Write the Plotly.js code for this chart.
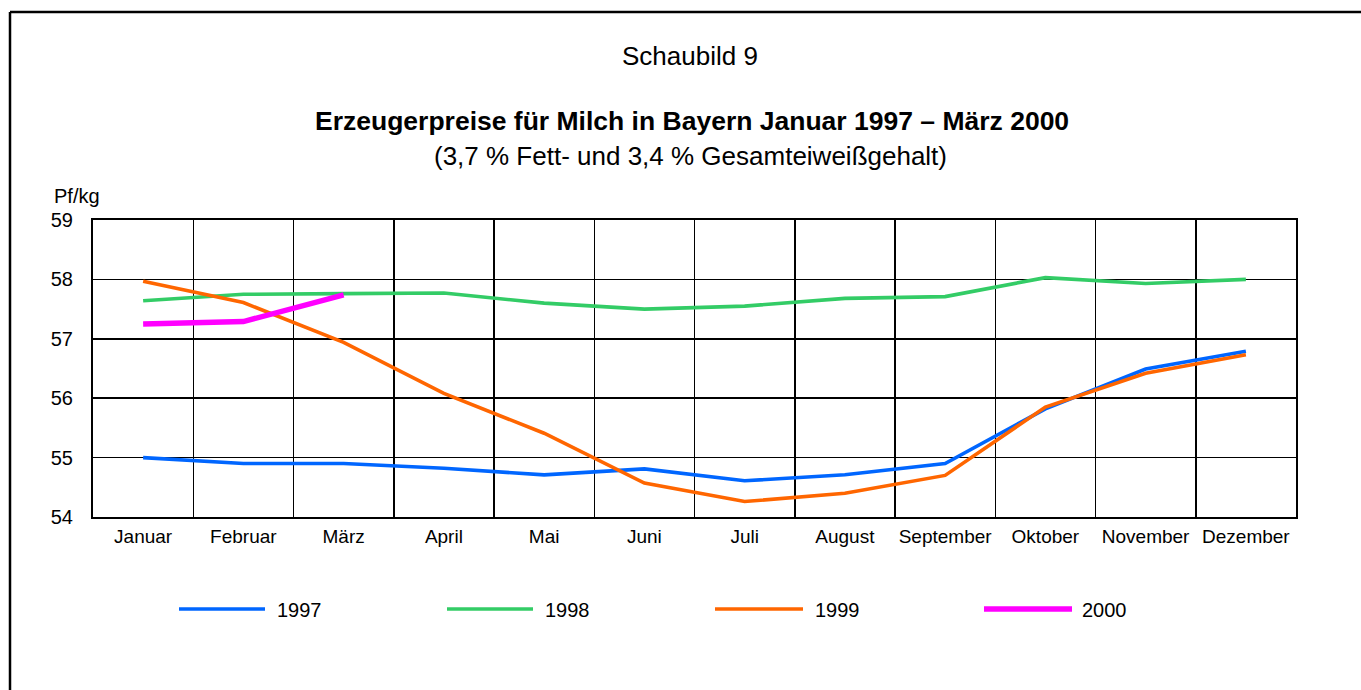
<!DOCTYPE html>
<html>
<head>
<meta charset="utf-8">
<script src="https://cdn.plot.ly/plotly-3.0.1.min.js"></script>
<style>html,body{margin:0;padding:0;background:#fff;}#chart{width:1361px;height:690px;}</style>
</head>
<body>
<div id="chart"></div>
<script>
const months = ["Januar","Februar","März","April","Mai","Juni","Juli","August","September","Oktober","November","Dezember"];
const y1997 = [55.00, 54.90, 54.90, 54.82, 54.71, 54.81, 54.61, 54.71, 54.90, 55.82, 56.49, 56.79];
const y1998 = [57.64, 57.75, 57.76, 57.77, 57.60, 57.50, 57.55, 57.68, 57.71, 58.03, 57.93, 58.00];
const y1999 = [57.97, 57.61, 56.94, 56.08, 55.41, 54.57, 54.26, 54.40, 54.70, 55.85, 56.42, 56.73];
const y2000 = [57.25, 57.29, 57.74];
const seriesNames = ["1997","1998","1999","2000"];
const seriesColors = ["#0066ff","#33cc66","#ff6600","#ff00ff"];
const seriesWidths = [3.6, 3.6, 3.6, 5.5];
const yTicks = [54,55,56,57,58,59];

const L = 93, R = 1296, T = 220, B = 517;
const W = R - L, H = B - T;
const px = x => (x - L) / W;
const py = y => (B - y) / H;

const allY = [y1997, y1998, y1999, y2000];
const traces = allY.map((vals, i) => ({
  type: "scatter", mode: "lines",
  x: months.slice(0, vals.length), y: vals,
  name: seriesNames[i],
  line: {color: seriesColors[i], width: seriesWidths[i]},
  showlegend: false, hoverinfo: "skip"
}));

const legendPos = [[179,265,275],[447,533,543],[715,803,813],[984,1072,1080]];
const shapes = [
  {type:"line", xref:"paper", yref:"paper", x0:px(10), x1:px(10), y0:py(12), y1:py(700), line:{color:"#000", width:2.5}},
  {type:"line", xref:"paper", yref:"paper", x0:px(10), x1:px(1400), y0:py(12), y1:py(12), line:{color:"#000", width:2.5}}
];
const annotations = [
  {text:"Schaubild 9", xref:"paper", yref:"paper", x:px(690), y:py(56), xanchor:"center", yanchor:"middle", showarrow:false, font:{size:26, color:"#000"}},
  {text:"<b>Erzeugerpreise für Milch in Bayern Januar 1997 – März 2000</b>", xref:"paper", yref:"paper", x:px(692), y:py(121), xanchor:"center", yanchor:"middle", showarrow:false, font:{size:26.5, color:"#000"}},
  {text:"(3,7 % Fett- und 3,4 % Gesamteiweißgehalt)", xref:"paper", yref:"paper", x:px(690), y:py(156), xanchor:"center", yanchor:"middle", showarrow:false, font:{size:26, color:"#000"}},
  {text:"Pf/kg", xref:"paper", yref:"paper", x:px(52), y:py(196), xanchor:"left", yanchor:"middle", showarrow:false, font:{size:20, color:"#000"}}
];
seriesNames.forEach((n, i) => {
  const p = legendPos[i];
  shapes.push({type:"line", xref:"paper", yref:"paper", x0:px(p[0]), x1:px(p[1]), y0:py(609), y1:py(609), line:{color:seriesColors[i], width:seriesWidths[i]}});
  annotations.push({text:n, xref:"paper", yref:"paper", x:px(p[2]), y:py(610), xanchor:"left", yanchor:"middle", showarrow:false, font:{size:20, color:"#000"}});
});

const layout = {
  width:1361, height:690,
  margin:{l:L, r:1361-R, t:T, b:690-B, pad:0},
  paper_bgcolor:"#fff", plot_bgcolor:"#fff",
  font:{family:"Liberation Sans, Arial, sans-serif", color:"#000"},
  showlegend:false,
  xaxis:{
    type:"category", categoryorder:"array", categoryarray:months,
    range:[-0.5, 11.5], tickson:"boundaries", tickangle:0,
    showgrid:true, gridcolor:"#000", gridwidth:1.5,
    showline:true, linecolor:"#000", linewidth:2, mirror:true,
    ticks:"", ticklabelstandoff:1, tickfont:{size:19, color:"#000"},
    zeroline:false, fixedrange:true
  },
  yaxis:{
    range:[54, 59], tickvals:yTicks, ticktext:yTicks.map(String),
    showgrid:true, gridcolor:"#000", gridwidth:1.5,
    showline:true, linecolor:"#000", linewidth:2, mirror:true,
    ticks:"", ticklabelstandoff:14, tickfont:{size:20, color:"#000"},
    zeroline:false, fixedrange:true
  },
  shapes:shapes, annotations:annotations
};
Plotly.newPlot("chart", traces, layout, {displayModeBar:false, staticPlot:true});
</script>
</body>
</html>
